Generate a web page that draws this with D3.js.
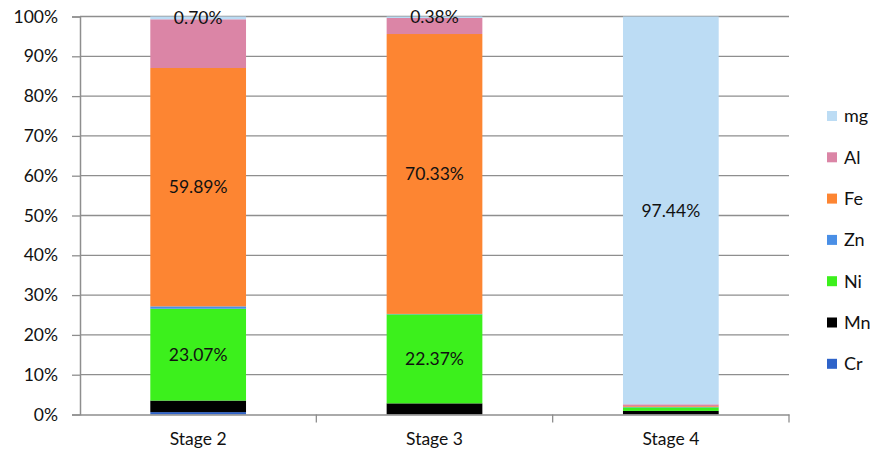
<!DOCTYPE html>
<html>
<head>
<meta charset="utf-8">
<script src="https://cdn.jsdelivr.net/npm/d3@7/dist/d3.min.js"></script>
<style>
  html, body { margin: 0; padding: 0; background: #fff; }
  svg { display: block; font-family: Lato, "Open Sans", sans-serif; }
</style>
</head>
<body>
<svg id="chart" width="882" height="463"></svg>
<script>
// ---- data ----
const categories = ["Stage 2", "Stage 3", "Stage 4"];
const seriesNames = ["Cr", "Mn", "Ni", "Zn", "Fe", "Al", "mg"];
const Cr = [0.6, 0.0, 0.0];
const Mn = [2.9, 2.8, 0.9];
const Ni = [23.07, 22.37, 0.9];
const Zn = [0.6, 0.1, 0.1];
const Fe = [59.89, 70.33, 0.2];
const Al = [12.24, 4.02, 0.46];
const mg = [0.70, 0.38, 97.44];
const seriesColors = ["#2e63c9", "#000000", "#3cf01c", "#4a8fe6", "#fd8532", "#db85a6", "#bcdcf4"];
// labelled segments: [series, category index, text]
const labels = [
  ["mg", 0, "0.70%"], ["Fe", 0, "59.89%"], ["Ni", 0, "23.07%"],
  ["mg", 1, "0.38%"], ["Fe", 1, "70.33%"], ["Ni", 1, "22.37%"],
  ["mg", 2, "97.44%"]
];
const yTicks = [0, 10, 20, 30, 40, 50, 60, 70, 80, 90, 100];

const valuesBySeries = { Cr, Mn, Ni, Zn, Fe, Al, mg };
const table = categories.map((c, i) => {
  const row = { cat: c };
  seriesNames.forEach(s => row[s] = valuesBySeries[s][i]);
  return row;
});
const stacked = d3.stack().keys(seriesNames)(table);

// ---- layout ----
const svg = d3.select("#chart");
const mLeft = 80, mRight = 789, mTop = 16.5, mBottom = 414.5;
const x = d3.scaleBand().domain(categories).range([mLeft, mRight]).paddingInner(0).paddingOuter(0);
const y = d3.scaleLinear().domain([0, 100]).range([mBottom, mTop]);
const barW = x.bandwidth() * 0.405;
const grey = "#8e8e8e";
const txt = "#111";

// gridlines
svg.append("g").selectAll("line").data(yTicks.filter(t => t > 0)).join("line")
  .attr("x1", mLeft).attr("x2", mRight)
  .attr("y1", d => y(d)).attr("y2", d => y(d))
  .attr("stroke", grey).attr("stroke-width", 1.3);

// bars
const color = d3.scaleOrdinal().domain(seriesNames).range(seriesColors);
svg.append("g").selectAll("g").data(stacked).join("g")
  .attr("fill", d => color(d.key))
  .selectAll("rect").data(d => d).join("rect")
  .attr("x", d => x(d.data.cat) + (x.bandwidth() - barW) / 2)
  .attr("width", barW)
  .attr("y", d => y(d[1]))
  .attr("height", d => y(d[0]) - y(d[1]));

// y axis
const yAxis = d3.axisLeft(y).tickValues(yTicks).tickFormat(d => d + "%").tickSize(8).tickPadding(14);
const gy = svg.append("g").attr("transform", `translate(${mLeft},0)`).call(yAxis);
gy.select(".domain").attr("stroke", grey).attr("stroke-width", 1.5);
gy.selectAll(".tick line").attr("stroke", grey).attr("stroke-width", 1.3);
gy.selectAll(".tick text").attr("fill", txt).style("font-size", "17.5px").style("font-family", "Lato, sans-serif");

// x axis
const xAxis = d3.axisBottom(x).tickSize(0).tickPadding(18);
const gx = svg.append("g").attr("transform", `translate(0,${mBottom})`).call(xAxis);
gx.select(".domain").attr("stroke", grey).attr("stroke-width", 1.5);
gx.selectAll(".tick text").attr("fill", txt).style("font-size", "17.5px").style("font-family", "Lato, sans-serif");
// category boundary ticks
gx.append("g").selectAll("line").data(categories).join("line")
  .attr("x1", d => x(d) + x.bandwidth()).attr("x2", d => x(d) + x.bandwidth())
  .attr("y1", 0).attr("y2", 8)
  .attr("stroke", grey).attr("stroke-width", 1.3);

// data labels
svg.append("g").selectAll("text").data(labels).join("text")
  .attr("x", d => x(categories[d[1]]) + x.bandwidth() / 2)
  .attr("y", d => {
    const seg = stacked.find(s => s.key === d[0])[d[1]];
    return (y(seg[0]) + y(seg[1])) / 2;
  })
  .attr("dy", "0.35em")
  .attr("text-anchor", "middle")
  .attr("fill", txt)
  .style("font-size", "17.5px")
  .text(d => d[2]);

// legend
const legendOrder = seriesNames.slice().reverse();
const lg = svg.append("g").selectAll("g").data(legendOrder).join("g")
  .attr("transform", (d, i) => `translate(827,${116 + i * 41.3})`);
lg.append("rect").attr("x", 0).attr("y", -5).attr("width", 10).attr("height", 10)
  .attr("fill", d => color(d));
lg.append("text").attr("x", 17).attr("dy", "0.35em")
  .attr("fill", txt).style("font-size", "18px").text(d => d);
</script>
</body>
</html>
